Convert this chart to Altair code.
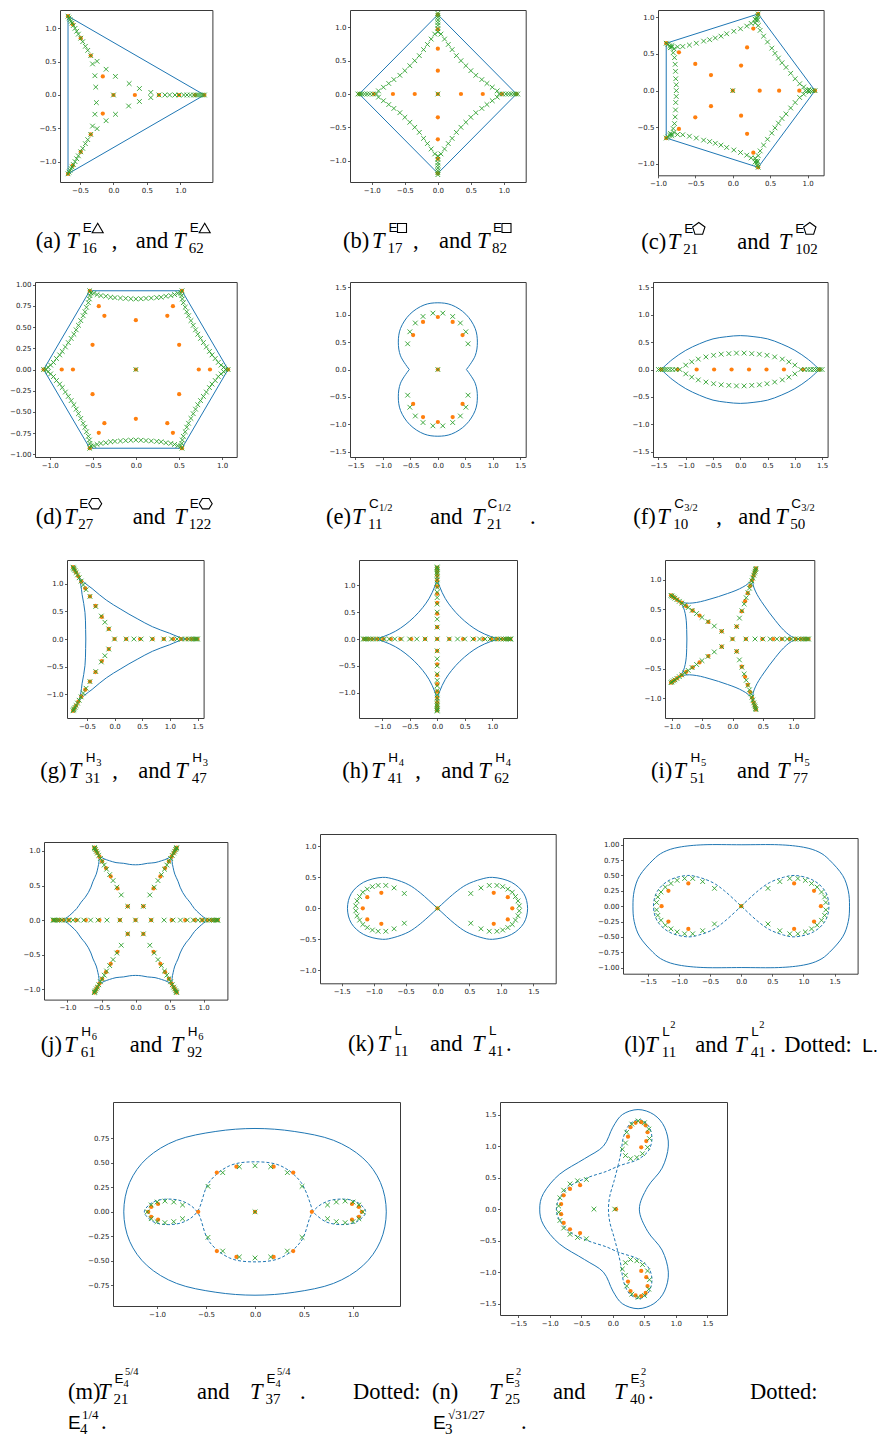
import numpy as np
import pandas as pd
import altair as alt

BLUE, ORANGE, GREEN = "#1f77b4", "#ff7f0e", "#2ca02c"
XMARK = "M-1,-1L1,1M-1,1L1,-1"

# ======================= data =======================
# (a) triangle: vertices (polar) / points along the three arms / off-arm points per sector
A_POLY_R = [1.36, 1.36, 1.36, 1.36]
A_POLY_DEG = [0, 120, 240, 360]
A_ARMS = [0, 120, 240]
A_ORANGE_R = [0.32, 0.68, 0.98, 1.22, 1.36]
A_GREEN_R = [0.68, 0.77, 0.84, 0.92, 0.98, 1.05, 1.10, 1.15, 1.20, 1.24, 1.27, 1.30, 1.33, 1.36]
A_GREEN_OFF = [-4, 4, 14, 36, 84, 106]
A_GREEN_OFF_R = [0.56, 0.56, 0.40, 0.29, 0.28, 0.40]

# (b) square
B_POLY_R = [1.19, 1.19, 1.19, 1.19, 1.19]
B_POLY_DEG = [0, 90, 180, 270, 360]
B_ARMS = [0, 90, 180, 270]
B_ORANGE_R = [0.35, 0.68, 0.97, 1.19]
B_GREEN_R = [0.93, 0.98, 1.03, 1.07, 1.11, 1.15, 1.18, 1.21]
B_GREEN_OFF = [3, 7, 12, 18, 26, 35, 45, 55, 64, 72, 78, 83, 87]
B_GREEN_OFF_R = [0.90, 0.83, 0.76, 0.70, 0.64, 0.61, 0.60, 0.61, 0.64, 0.70, 0.76, 0.83, 0.90]

# (c) pentagon
C_POLY_R = [1.10, 1.10, 1.10, 1.10, 1.10, 1.10]
C_POLY_DEG = [0, 72, 144, 216, 288, 360]
C_ARMS = [0, 72, 144, 216, 288]
C_ORANGE_R = [0.36, 0.62, 0.89, 1.10]
C_GREEN_R = [0.97, 1.01, 1.04, 1.07, 1.10]
C_GREEN_OFF = [1, 3, 6, 11, 17, 24, 30, 36, 42, 48, 55, 61, 66, 69, 71]
C_GREEN_OFF_R = [1.02, 0.95, 0.90, 0.85, 0.81, 0.78, 0.76, 0.755, 0.76, 0.78, 0.81, 0.85, 0.90, 0.95, 1.02]

# (d) hexagon
D_POLY_R = [1.07, 1.07, 1.07, 1.07, 1.07, 1.07, 1.07]
D_POLY_DEG = [0, 60, 120, 180, 240, 300, 360]
D_ARMS = [0, 60, 120, 180, 240, 300]
D_ORANGE_R = [0.73, 0.86, 1.07]
D_ORANGE_MID_OFF = [30]
D_ORANGE_MID_R = [0.58]
D_GREEN_R = [1.04, 1.07]
D_GREEN_OFF = [1.5, 3, 5, 8, 11, 14, 18, 22, 26, 30, 34, 38, 42, 46, 49, 52, 55, 57, 58.5]
D_GREEN_OFF_R = [1.02, 0.99, 0.96, 0.93, 0.90, 0.88, 0.86, 0.845, 0.835, 0.83, 0.835, 0.845,
                 0.86, 0.88, 0.90, 0.93, 0.96, 0.99, 1.02]

# (e) C_{1/2}
E_TOP_X = [0.52, 0.68, 0.72, 0.68, 0.51, 0.25, 0.00, -0.25, -0.51, -0.68, -0.72, -0.68, -0.52]
E_TOP_Y = [0.00, 0.25, 0.50, 0.75, 1.01, 1.18, 1.22, 1.18, 1.01, 0.75, 0.50, 0.25, 0.00]
E_BOT_X = [0.52, 0.68, 0.72, 0.68, 0.51, 0.25, 0.00, -0.25, -0.51, -0.68, -0.72, -0.68, -0.52]
E_BOT_Y = [0.00, -0.25, -0.50, -0.75, -1.01, -1.18, -1.22, -1.18, -1.01, -0.75, -0.50, -0.25, 0.00]
E_ORANGE_X = [0.00, 0.00, 0.27, -0.27, 0.45, -0.45, 0.00, 0.27, -0.27, 0.45, -0.45]
E_ORANGE_Y = [0.00, 0.96, 0.87, 0.87, 0.63, 0.63, -0.96, -0.87, -0.87, -0.63, -0.63]
E_GREEN_X = [0.00, 0.09, -0.09, 0.27, -0.27, 0.41, -0.41, 0.51, -0.51, 0.55, -0.55,
             0.09, -0.09, 0.27, -0.27, 0.41, -0.41, 0.51, -0.51, 0.55, -0.55]
E_GREEN_Y = [0.00, 1.03, 1.03, 0.97, 0.97, 0.85, 0.85, 0.69, 0.69, 0.47, 0.47,
             -1.03, -1.03, -0.97, -0.97, -0.85, -0.85, -0.69, -0.69, -0.47, -0.47]

# (f) C_{3/2}
F_ARC_X = [-1.45, -1.25, -1.00, -0.75, -0.50, -0.25, 0.00, 0.25, 0.50, 0.75, 1.00, 1.25, 1.45]
F_TOP_Y = [0.00, 0.18, 0.35, 0.47, 0.56, 0.60, 0.62, 0.60, 0.56, 0.47, 0.35, 0.18, 0.00]
F_BOT_Y = [0.00, -0.18, -0.35, -0.47, -0.56, -0.60, -0.62, -0.60, -0.56, -0.47, -0.35, -0.18, 0.00]
F_ORANGE_X = [-1.45, -1.15, -0.80, -0.48, -0.16, 0.16, 0.48, 0.80, 1.15, 1.45]
F_ORANGE_Y = [0, 0, 0, 0, 0, 0, 0, 0, 0, 0]
F_GREEN_END_X = [-1.50, -1.46, -1.42, -1.38, -1.34, -1.29, -1.24, -1.18, -1.11,
                 1.11, 1.18, 1.24, 1.29, 1.34, 1.38, 1.42, 1.46, 1.50]
F_GREEN_ARC_X = [-1.00, -0.89, -0.77, -0.63, -0.49, -0.35, -0.21, -0.07, 0.07, 0.21, 0.35, 0.49,
                 0.63, 0.77, 0.89, 1.00]
F_GREEN_ARC_UP = [0.08, 0.14, 0.19, 0.23, 0.26, 0.28, 0.29, 0.30, 0.30, 0.29, 0.28, 0.26,
                  0.23, 0.19, 0.14, 0.08]
F_GREEN_ARC_DN = [-0.08, -0.14, -0.19, -0.23, -0.26, -0.28, -0.29, -0.30, -0.30, -0.29, -0.28,
                  -0.26, -0.23, -0.19, -0.14, -0.08]

# (g) H3 : arcs between cusps given as (angular offset from cusp, radius)
G_ARMS = [0, 120, 240]
G_ARC_OFF = [0, 2, 6, 11, 18, 28, 42, 60, 78, 92, 102, 109, 114, 118, 120]
G_ARC_R = [1.30, 1.15, 1.00, 0.85, 0.72, 0.62, 0.55, 0.52, 0.55, 0.62, 0.72, 0.85, 1.00, 1.15, 1.30]
G_ORANGE_R = [0.21, 0.46, 0.69, 0.89, 1.06, 1.20, 1.31, 1.39, 1.45, 1.50]
G_GREEN_R = [0.21, 0.35, 0.48, 0.68, 0.89, 1.03, 1.13, 1.21, 1.28, 1.34, 1.39, 1.43, 1.46, 1.48, 1.50]

# (h) H4
H_ARMS = [0, 90, 180, 270]
H_ARC_OFF = [0, 0.3, 2.8, 10.9, 24.3, 45, 65.7, 79.1, 87.2, 89.7, 90]
H_ARC_R = [1.17, 1.12, 0.97, 0.77, 0.64, 0.585, 0.64, 0.77, 0.97, 1.12, 1.17]
H_ORANGE_R = [0.22, 0.47, 0.67, 0.84, 0.98, 1.09, 1.18, 1.25, 1.30, 1.33]
H_GREEN_R = [0.22, 0.37, 0.50, 0.65, 0.77, 0.87, 0.96, 1.04, 1.10, 1.16, 1.21, 1.25, 1.29, 1.32, 1.34]

# (i) H5
I_ARMS = [0, 72, 144, 216, 288]
I_ARC_OFF = [0, 0.5, 2.5, 7, 14, 24, 36, 48, 58, 65, 69.5, 71.5, 72]
I_ARC_R = [1.10, 1.05, 0.97, 0.89, 0.82, 0.77, 0.75, 0.77, 0.82, 0.89, 0.97, 1.05, 1.10]
I_ORANGE_R = [0.22, 0.49, 0.67, 0.81, 0.94, 1.04, 1.12, 1.18, 1.22, 1.25]
I_GREEN_R = [0.22, 0.37, 0.50, 0.62, 0.73, 0.82, 0.90, 0.97, 1.03, 1.08, 1.13, 1.17, 1.20, 1.23, 1.25]

# (j) H6
J_ARMS = [0, 60, 120, 180, 240, 300]
J_ARC_OFF = [0, 0.5, 2.5, 6, 11, 18, 24, 30, 36, 42, 49, 54, 57.5, 59.5, 60]
J_ARC_R = [1.10, 1.06, 1.00, 0.94, 0.88, 0.84, 0.81, 0.80, 0.81, 0.84, 0.88, 0.94, 1.00, 1.06, 1.10]
J_ORANGE_R = [0.23, 0.53, 0.73, 0.87, 0.98, 1.06, 1.12, 1.16, 1.19, 1.21]
J_GREEN_R = [0.23, 0.42, 0.55, 0.66, 0.76, 0.85, 0.92, 0.98, 1.03, 1.08, 1.12, 1.15, 1.18, 1.20, 1.21]

# (k) lemniscate L
K_LEM_X = [0, 0.27, 0.45, 0.68, 0.86, 1.16, 1.35, 1.41, 1.35, 1.16, 0.86, 0.68, 0.45, 0.27, 0,
           -0.27, -0.45, -0.68, -0.86, -1.16, -1.35, -1.41, -1.35, -1.16, -0.86, -0.68, -0.45, -0.27, 0]
K_LEM_Y = [0, 0.25, 0.38, 0.47, 0.50, 0.42, 0.24, 0, -0.24, -0.42, -0.50, -0.47, -0.38, -0.25, 0,
           0.25, 0.38, 0.47, 0.50, 0.42, 0.24, 0, -0.24, -0.42, -0.50, -0.47, -0.38, -0.25, 0]
K_ORANGE_X = [0, 0.88, 1.10, 1.17, 1.10, 0.88, -0.88, -1.10, -1.17, -1.10, -0.88]
K_ORANGE_Y = [0, 0.25, 0.18, 0, -0.18, -0.25, 0.25, 0.18, 0, -0.18, -0.25]
K_GREEN_QX = [0.52, 0.68, 0.81, 0.93, 1.02, 1.10, 1.17, 1.22, 1.26, 1.28]
K_GREEN_QY = [0.24, 0.33, 0.37, 0.37, 0.35, 0.31, 0.26, 0.19, 0.12, 0.04]

# (l) L^2 with dotted L
L_OUT_X = [1.74, 1.72, 1.63, 1.42, 1.25, 1.00, 0.60, 0.00, -0.60, -1.00, -1.25, -1.42, -1.63, -1.72,
           -1.74, -1.72, -1.63, -1.42, -1.25, -1.00, -0.60, 0.00, 0.60, 1.00, 1.25, 1.42, 1.63, 1.72]
L_OUT_Y = [0.00, 0.25, 0.50, 0.75, 0.88, 0.96, 1.00, 1.00, 1.00, 0.96, 0.88, 0.75, 0.50, 0.25,
           0.00, -0.25, -0.50, -0.75, -0.88, -0.96, -1.00, -1.00, -1.00, -0.96, -0.88, -0.75, -0.50, -0.25]
L_LEM_X = [0, 0.27, 0.45, 0.68, 0.86, 1.16, 1.35, 1.41, 1.35, 1.16, 0.86, 0.68, 0.45, 0.27, 0,
           -0.27, -0.45, -0.68, -0.86, -1.16, -1.35, -1.41, -1.35, -1.16, -0.86, -0.68, -0.45, -0.27, 0]
L_LEM_Y = [0, 0.25, 0.38, 0.47, 0.50, 0.42, 0.24, 0, -0.24, -0.42, -0.50, -0.47, -0.38, -0.25, 0,
           0.25, 0.38, 0.47, 0.50, 0.42, 0.24, 0, -0.24, -0.42, -0.50, -0.47, -0.38, -0.25, 0]
L_ORANGE_X = [0, 0.85, 1.17, 1.28, 1.17, 0.85, -0.85, -1.17, -1.28, -1.17, -0.85]
L_ORANGE_Y = [0, 0.37, 0.25, 0, -0.25, -0.37, 0.37, 0.25, 0, -0.25, -0.37]
L_GREEN_QX = [0.43, 0.62, 0.78, 0.91, 1.03, 1.13, 1.22, 1.29, 1.34, 1.36]
L_GREEN_QY = [0.29, 0.40, 0.45, 0.45, 0.42, 0.37, 0.31, 0.23, 0.15, 0.06]

# (m) E4^{5/4} with dotted E4^{1/4}
M_OUT_X = [1.34, 1.28, 1.10, 0.80, 0.40, 0.00, -0.40, -0.80, -1.10, -1.28,
           -1.34, -1.28, -1.10, -0.80, -0.40, 0.00, 0.40, 0.80, 1.10, 1.28]
M_OUT_Y = [0.00, 0.30, 0.55, 0.73, 0.82, 0.85, 0.82, 0.73, 0.55, 0.30,
           0.00, -0.30, -0.55, -0.73, -0.82, -0.85, -0.82, -0.73, -0.55, -0.30]
M_DASH_X = [0.59, 0.47, 0.26, 0.00, -0.26, -0.47, -0.59, -0.72, -0.88, -1.04, -1.13, -1.04, -0.88,
            -0.72, -0.59, -0.47, -0.26, 0.00, 0.26, 0.47, 0.59, 0.72, 0.88, 1.04, 1.13, 1.04, 0.88,
            0.72, 0.59]
M_DASH_Y = [0.00, 0.30, 0.47, 0.51, 0.47, 0.30, 0.00, -0.10, -0.13, -0.10, 0.00, 0.10, 0.13,
            0.10, 0.00, -0.30, -0.47, -0.51, -0.47, -0.30, 0.00, 0.10, 0.13, 0.10, 0.00, -0.10, -0.13,
            -0.10, 0.00]
M_ORANGE_X = [0.00, -0.39, -0.19, 0.19, 0.39, -0.39, -0.19, 0.19, 0.39, -0.58, 0.58,
              0.99, 1.06, 1.09, 1.06, 0.99, -0.99, -1.06, -1.09, -1.06, -0.99]
M_ORANGE_Y = [0.00, 0.40, 0.46, 0.46, 0.40, -0.40, -0.46, -0.46, -0.40, 0.00, 0.00,
              0.08, 0.05, 0.00, -0.05, -0.08, 0.08, 0.05, 0.00, -0.05, -0.08]
M_GREEN_X = [0.00, -0.48, -0.33, -0.16, 0.00, 0.16, 0.33, 0.48, -0.48, -0.33, -0.16, 0.00, 0.16, 0.33, 0.48,
             0.74, 0.83, 0.92, 1.00, 1.06, 1.10, 1.06, 1.00, 0.92, 0.83, 0.74,
             -0.74, -0.83, -0.92, -1.00, -1.06, -1.10, -1.06, -1.00, -0.92, -0.83, -0.74]
M_GREEN_Y = [0.00, 0.26, 0.40, 0.46, 0.47, 0.46, 0.40, 0.26, -0.26, -0.40, -0.46, -0.47, -0.46, -0.40, -0.26,
             0.07, 0.10, 0.11, 0.10, 0.07, 0.00, -0.07, -0.10, -0.11, -0.10, -0.07,
             0.07, 0.10, 0.11, 0.10, 0.07, 0.00, -0.07, -0.10, -0.11, -0.10, -0.07]

# (n) E3^2 with dotted E3^{sqrt(31/27)}
N_OUT_X = [0.40, 0.65, 0.82, 0.88, 0.78, 0.55, 0.42, 0.55, 0.78, 0.88, 0.82, 0.65, 0.40, 0.15, 0.00,
           -0.15, -0.45, -0.85, -1.10, -1.16, -1.10, -0.85, -0.45, -0.15, 0.00, 0.15]
N_OUT_Y = [1.58, 1.50, 1.30, 1.00, 0.65, 0.35, 0.00, -0.35, -0.65, -1.00, -1.30, -1.50, -1.58, -1.50,
           -1.30, -1.00, -0.80, -0.55, -0.25, 0.00, 0.25, 0.55, 0.80, 1.00, 1.30, 1.50]
N_DASH_X = [0.08, 0.13, 0.17, 0.27, 0.42, 0.56, 0.62, 0.56, 0.38, 0.20, 0.08, -0.10, -0.40, -0.70, -0.88,
            -0.88, -0.70, -0.40, -0.10, 0.08, 0.20, 0.38, 0.56, 0.62, 0.56, 0.42, 0.27, 0.17, 0.13, 0.08,
            0.02, -0.05, -0.07, -0.05, 0.02, 0.08]
N_DASH_Y = [0.68, 0.90, 1.15, 1.35, 1.42, 1.33, 1.12, 0.92, 0.78, 0.72, 0.68, 0.60, 0.50, 0.35, 0.10,
            -0.10, -0.35, -0.50, -0.60, -0.68, -0.72, -0.78, -0.92, -1.12, -1.33, -1.42, -1.35, -1.15, -0.90,
            -0.68, -0.45, -0.20, 0.00, 0.20, 0.45, 0.68]
N_ORANGE_X = [0.05, 0.28, 0.36, 0.45, 0.52, 0.55, 0.53, 0.45, 0.24,
              -0.82, -0.78, -0.68, -0.52, -0.82, -0.78, -0.68, -0.52,
              0.28, 0.36, 0.45, 0.52, 0.55, 0.53, 0.45, 0.24]
N_ORANGE_Y = [0.00, 1.30, 1.37, 1.38, 1.33, 1.22, 1.08, 0.98, 1.15,
              0.08, 0.22, 0.32, 0.38, -0.08, -0.22, -0.32, -0.38,
              -1.30, -1.37, -1.38, -1.33, -1.22, -1.08, -0.98, -1.15]
N_GREEN_X = [0.03, 0.20, 0.22, 0.30, 0.40, 0.50, 0.57, 0.58, 0.55, 0.47, 0.38, 0.28, 0.20, 0.15,
             -0.86, -0.84, -0.78, -0.68, -0.56, -0.42, -0.86, -0.84, -0.78, -0.68, -0.56, -0.42, -0.30,
             0.20, 0.22, 0.30, 0.40, 0.50, 0.57, 0.58, 0.55, 0.47, 0.38, 0.28, 0.20, 0.15]
N_GREEN_Y = [0.00, 1.05, 1.22, 1.35, 1.40, 1.37, 1.27, 1.12, 0.98, 0.88, 0.82, 0.80, 0.85, 0.95,
             0.05, 0.18, 0.30, 0.40, 0.45, 0.47, -0.05, -0.18, -0.30, -0.40, -0.45, -0.47, 0.00,
             -1.05, -1.22, -1.35, -1.40, -1.37, -1.27, -1.12, -0.98, -0.88, -0.82, -0.80, -0.85, -0.95]

# ======================= captions (style, text, x in page pixels) =======================
CAP_A = [("rm", "(a)", 35), ("it", "T", 65.5), ("sup", "E", 82), ("tri", "", 97), ("sub", "16", 81),
         ("rm", ",", 111), ("rm", "and", 135), ("it", "T", 172.5), ("sup", "E", 189), ("tri", "", 204),
         ("sub", "62", 188)]
CAP_B = [("rm", "(b)", 343), ("it", "T", 372), ("sup", "E", 388.5), ("sq", "", 402), ("sub", "17", 387.5),
         ("rm", ",", 413), ("rm", "and", 439), ("it", "T", 477), ("sup", "E", 493), ("sq", "", 506.5),
         ("sub", "82", 492)]
CAP_C = [("rm", "(c)", 641), ("it", "T", 667.5), ("sup", "E", 684), ("pent", "", 698.5), ("sub", "21", 683),
         ("rm", "and", 737), ("it", "T", 778.5), ("sup", "E", 795), ("pent", "", 809.5), ("sub", "102", 795)]
CAP_D = [("rm", "(d)", 35), ("it", "T", 63.5), ("sup", "E", 78.5), ("hex", "", 94.5), ("sub", "27", 77.5),
         ("rm", "and", 132), ("it", "T", 173.5), ("sup", "E", 189), ("hex", "", 205), ("sub", "122", 188)]
CAP_E = [("rm", "(e)", 326), ("it", "T", 352), ("sup", "C", 369), ("supsub", "1/2", 379), ("sub", "11", 368),
         ("rm", "and", 430), ("it", "T", 472), ("sup", "C", 487.5), ("supsub", "1/2", 497.5),
         ("sub", "21", 487), ("rm", ".", 530)]
CAP_F = [("rm", "(f)", 633), ("it", "T", 657), ("sup", "C", 674), ("supsub", "3/2", 684), ("sub", "10", 673),
         ("rm", ",", 716), ("rm", "and", 738), ("it", "T", 775), ("sup", "C", 791), ("supsub", "3/2", 801),
         ("sub", "50", 790)]
CAP_G = [("rm", "(g)", 40), ("it", "T", 68.5), ("sup", "H", 85.5), ("supsub", "3", 96), ("sub", "31", 85),
         ("rm", ",", 112), ("rm", "and", 138), ("it", "T", 175), ("sup", "H", 192), ("supsub", "3", 202.5),
         ("sub", "47", 191.5)]
CAP_H = [("rm", "(h)", 342), ("it", "T", 371), ("sup", "H", 388), ("supsub", "4", 398.5), ("sub", "41", 387.5),
         ("rm", ",", 415), ("rm", "and", 441), ("it", "T", 478), ("sup", "H", 495), ("supsub", "4", 505.5),
         ("sub", "62", 494)]
CAP_I = [("rm", "(i)", 651), ("it", "T", 673.5), ("sup", "H", 690.5), ("supsub", "5", 701), ("sub", "51", 690),
         ("rm", "and", 737), ("it", "T", 777), ("sup", "H", 794), ("supsub", "5", 804.5), ("sub", "77", 793)]
CAP_J = [("rm", "(j)", 40), ("it", "T", 63.5), ("sup", "H", 80.5), ("supsub", "6", 91), ("sub", "61", 80),
         ("rm", "and", 129), ("it", "T", 170), ("sup", "H", 187), ("supsub", "6", 197.5), ("sub", "92", 186.5)]
CAP_K = [("rm", "(k)", 348), ("it", "T", 377.5), ("sup", "L", 394.5), ("sub", "11", 394), ("rm", "and", 430),
         ("it", "T", 472), ("sup", "L", 489), ("sub", "41", 488.5), ("rm", ".", 506)]
CAP_L = [("rm", "(l)", 624), ("it", "T", 645), ("sup", "L", 662), ("supsup", "2", 670), ("sub", "11", 661.5),
         ("rm", "and", 695), ("it", "T", 734), ("sup", "L", 751), ("supsup", "2", 759), ("sub", "41", 750.5),
         ("rm", ".", 770), ("rm", "Dotted:", 784), ("sans", "L.", 862)]
CAP_M1 = [("rm", "(m)", 68), ("it", "T", 98), ("sup", "E", 114.5), ("supsub", "4", 123.5),
          ("supsup", "5/4", 125), ("sub", "21", 113.5), ("rm", "and", 197), ("it", "T", 250),
          ("sup", "E", 266.5), ("supsub", "4", 275.5), ("supsup", "5/4", 277), ("sub", "37", 265.5),
          ("rm", ".", 300), ("rm", "Dotted:", 353)]
CAP_M2 = [("sans", "E", 68), ("sub", "4", 80), ("sup2", "1/4", 82), ("rm", ".", 101)]
CAP_N1 = [("rm", "(n)", 432), ("it", "T", 489), ("sup", "E", 505.5), ("supsub", "3", 514.5),
          ("supsup", "2", 516), ("sub", "25", 505), ("rm", "and", 553), ("it", "T", 614),
          ("sup", "E", 630.5), ("supsub", "3", 639.5), ("supsup", "2", 641), ("sub", "40", 630),
          ("rm", ".", 648), ("rm", "Dotted:", 750)]
CAP_N2 = [("sans", "E", 433), ("sub", "3", 445), ("sup2", "\u221a31/27", 448), ("rm", ".", 521)]

# ======================= helpers =======================
TEXT_STYLES = {
    "rm": ("Liberation Serif", 22.5, "normal", 0),
    "it": ("Liberation Serif", 22.5, "italic", 0),
    "sub": ("Liberation Serif", 15, "normal", 5),
    "sup": ("Liberation Sans", 13.5, "normal", -16),
    "supsub": ("Liberation Serif", 10.5, "normal", -12.5),
    "supsup": ("Liberation Serif", 10.5, "normal", -24),
    "sans": ("Liberation Sans", 19, "normal", 0),
    "sup2": ("Liberation Serif", 13, "normal", -10),
}
SHAPES = {
    "tri": ("M0,-0.85L1,0.85L-1,0.85Z", 121),
    "sq": ("M-1,-1L1,-1L1,1L-1,1Z", 81),
    "pent": ("M0,-1L0.951,-0.309L0.588,0.809L-0.588,0.809L-0.951,-0.309Z", 169),
    "hex": ("M1,0L0.5,0.8L-0.5,0.8L-1,0L-0.5,-0.8L0.5,-0.8Z", 169),
}


def polar(rs, ds):
    r = np.asarray(rs, dtype=float)
    d = np.deg2rad(np.asarray(ds, dtype=float))
    return pd.DataFrame({"x": r * np.cos(d), "y": r * np.sin(d)})


def cart(xs, ys):
    return pd.DataFrame({"x": np.asarray(xs, dtype=float), "y": np.asarray(ys, dtype=float)})


def on_arms(arms, radii, centre=True):
    rs, ds = ([0.0], [0.0]) if centre else ([], [])
    for a in arms:
        rs += list(radii)
        ds += [a] * len(radii)
    return rs, ds


def in_sectors(arms, offsets, radii):
    rs, ds = [], []
    for a in arms:
        rs += list(radii)
        ds += [a + o for o in offsets]
    return rs, ds


def join_polar(*parts):
    rs, ds = [], []
    for r, d in parts:
        rs += list(r)
        ds += list(d)
    return polar(rs, ds)


def arcs(arms, offsets, radii):
    return [polar(radii, [a + o for o in offsets]) for a in arms]


def mirror4(qx, qy):
    xs, ys = [], []
    for sx, sy in ((1, 1), (1, -1), (-1, 1), (-1, -1)):
        xs += [sx * v for v in qx]
        ys += [sy * v for v in qy]
    return xs, ys


def line_df(segs):
    frames = []
    for k, d in enumerate(segs):
        d = d.copy()
        d["seg"] = k
        d["i"] = np.arange(len(d))
        frames.append(d)
    return pd.concat(frames, ignore_index=True)


def axis(values, fmt):
    return alt.Axis(values=values, format=fmt, title=None, grid=False, domain=False, ticks=True,
                    tickSize=2.5, tickColor="#333333", tickWidth=0.8, labelFont="DejaVu Sans",
                    labelFontSize=7, labelColor="#222222", labelPadding=1.5, labelFlush=False,
                    labelOverlap=False)


def make_panel(P):
    X = alt.X("x:Q", scale=alt.Scale(domain=P["xdom"], nice=False, zero=False),
              axis=axis(P["xticks"], P.get("xfmt", ".1f")))
    Y = alt.Y("y:Q", scale=alt.Scale(domain=P["ydom"], nice=False, zero=False),
              axis=axis(P["yticks"], P.get("yfmt", ".1f")))
    layers = []
    for spec in P["lines"]:
        kw = dict(color=BLUE, strokeWidth=1.0, interpolate=spec["interp"])
        if spec.get("dash"):
            kw["strokeDash"] = [3, 2]
        layers.append(alt.Chart(line_df(spec["segs"])).mark_line(**kw).encode(
            x=X, y=Y, detail="seg:N", order="i:Q"))
    layers.append(alt.Chart(P["orange"]).mark_point(shape="circle", filled=True, size=18, color=ORANGE,
                                                     opacity=1).encode(x=X, y=Y))
    layers.append(alt.Chart(P["green"]).mark_point(shape=XMARK, filled=False, size=22, color=GREEN,
                                                    strokeWidth=0.9, opacity=1).encode(x=X, y=Y))
    for base, pieces in P["cap"]:
        for style, text, xi in pieces:
            px = xi - P["left"]
            if style in SHAPES:
                path, size = SHAPES[style]
                layers.append(alt.Chart(alt.Data(values=[{}])).mark_point(
                    shape=path, filled=False, size=size, color="black", strokeWidth=1.1, opacity=1
                ).encode(x=alt.value(px), y=alt.value(base - 20 - P["top"])))
            else:
                font, fs, fst, dy = TEXT_STYLES[style]
                layers.append(alt.Chart(alt.Data(values=[{}])).mark_text(
                    text=text, font=font, fontSize=fs, fontStyle=fst, align="left",
                    baseline="alphabetic", color="black"
                ).encode(x=alt.value(px), y=alt.value(base + dy - P["top"])))
    return alt.layer(*layers).properties(width=P["w"], height=P["h"])


def spacer(w, h):
    return alt.Chart(alt.Data(values=[{}])).mark_point(opacity=0, size=1).properties(
        width=w, height=h, view=alt.ViewBackground(strokeOpacity=0))


TICK3 = [-1.0, -0.5, 0.0, 0.5, 1.0]
TICK15 = [-1.5, -1.0, -0.5, 0.0, 0.5, 1.0, 1.5]
TICKQ = [-1.0, -0.75, -0.5, -0.25, 0.0, 0.25, 0.5, 0.75, 1.0]

gx_k, gy_k = mirror4(K_GREEN_QX, K_GREEN_QY)
gx_l, gy_l = mirror4(L_GREEN_QX, L_GREEN_QY)

# "adj": small upward correction of the stacking offset so each frame lands on its target row
P_A = dict(left=59.3, top=8, adj=0, w=152.4, h=172, xdom=[-0.80, 1.48], ydom=[-1.30, 1.27],
           xticks=[-0.5, 0.0, 0.5, 1.0], yticks=TICK3,
           lines=[dict(segs=[polar(A_POLY_R, A_POLY_DEG)], interp="linear")],
           orange=join_polar(on_arms(A_ARMS, A_ORANGE_R)),
           green=join_polar(on_arms(A_ARMS, A_GREEN_R), in_sectors(A_ARMS, A_GREEN_OFF, A_GREEN_OFF_R)),
           cap=[(246, CAP_A)])
P_B = dict(left=350, top=8, adj=0, w=175.7, h=172, xdom=[-1.33, 1.33], ydom=[-1.32, 1.26],
           xticks=TICK3, yticks=TICK3,
           lines=[dict(segs=[polar(B_POLY_R, B_POLY_DEG)], interp="linear")],
           orange=join_polar(on_arms(B_ARMS, B_ORANGE_R)),
           green=join_polar(on_arms(B_ARMS, B_GREEN_R), in_sectors(B_ARMS, B_GREEN_OFF, B_GREEN_OFF_R)),
           cap=[(246, CAP_B)])
P_C = dict(left=657.7, top=8, adj=0, w=165.6, h=165.3, xdom=[-1.0, 1.215], ydom=[-1.155, 1.10],
           xticks=TICK3, yticks=TICK3,
           lines=[dict(segs=[polar(C_POLY_R, C_POLY_DEG)], interp="linear")],
           orange=join_polar(on_arms(C_ARMS, C_ORANGE_R)),
           green=join_polar(on_arms(C_ARMS, C_GREEN_R), in_sectors(C_ARMS, C_GREEN_OFF, C_GREEN_OFF_R)),
           cap=[(247, CAP_C)])
P_D = dict(left=34.3, top=283.3, adj=3.5, w=201.7, h=175, xdom=[-1.17, 1.17], ydom=[-1.03, 1.03],
           xticks=TICK3, yticks=TICKQ, yfmt=".2f",
           lines=[dict(segs=[polar(D_POLY_R, D_POLY_DEG)], interp="linear")],
           orange=join_polar(on_arms(D_ARMS, D_ORANGE_R), in_sectors(D_ARMS, D_ORANGE_MID_OFF, D_ORANGE_MID_R)),
           green=join_polar(on_arms(D_ARMS, D_GREEN_R), in_sectors(D_ARMS, D_GREEN_OFF, D_GREEN_OFF_R)),
           cap=[(525, CAP_D)])
P_E = dict(left=350, top=283.3, adj=3.5, w=175.7, h=175, xdom=[-1.6, 1.6], ydom=[-1.6, 1.6],
           xticks=TICK15, yticks=TICK15,
           lines=[dict(segs=[cart(E_TOP_X, E_TOP_Y), cart(E_BOT_X, E_BOT_Y)], interp="catmull-rom")],
           orange=cart(E_ORANGE_X, E_ORANGE_Y), green=cart(E_GREEN_X, E_GREEN_Y),
           cap=[(525, CAP_E)])
P_F = dict(left=652.7, top=283.3, adj=3.5, w=174.6, h=175, xdom=[-1.6, 1.6], ydom=[-1.6, 1.6],
           xticks=TICK15, yticks=TICK15,
           lines=[dict(segs=[cart(F_ARC_X, F_TOP_Y), cart(F_ARC_X, F_BOT_Y)], interp="catmull-rom")],
           orange=cart(F_ORANGE_X, F_ORANGE_Y),
           green=cart(F_GREEN_END_X + F_GREEN_ARC_X + F_GREEN_ARC_X,
                      [0.0] * len(F_GREEN_END_X) + F_GREEN_ARC_UP + F_GREEN_ARC_DN),
           cap=[(525, CAP_F)])
P_G = dict(left=66.7, top=561, adj=3.5, w=136.6, h=158, xdom=[-0.86, 1.61], ydom=[-1.43, 1.43],
           xticks=[-0.5, 0.0, 0.5, 1.0, 1.5], yticks=TICK3,
           lines=[dict(segs=arcs(G_ARMS, G_ARC_OFF, G_ARC_R), interp="catmull-rom")],
           orange=join_polar(on_arms(G_ARMS, G_ORANGE_R)), green=join_polar(on_arms(G_ARMS, G_GREEN_R)),
           cap=[(779, CAP_G)])
P_H = dict(left=358.7, top=561, adj=3.5, w=158, h=158, xdom=[-1.42, 1.45], ydom=[-1.47, 1.47],
           xticks=TICK3, yticks=TICK3,
           lines=[dict(segs=arcs(H_ARMS, H_ARC_OFF, H_ARC_R), interp="catmull-rom")],
           orange=join_polar(on_arms(H_ARMS, H_ORANGE_R)), green=join_polar(on_arms(H_ARMS, H_GREEN_R)),
           cap=[(779, CAP_H)])
P_I = dict(left=665, top=561, adj=3.5, w=149.3, h=158, xdom=[-1.11, 1.345], ydom=[-1.33, 1.33],
           xticks=TICK3, yticks=TICK3,
           lines=[dict(segs=arcs(I_ARMS, I_ARC_OFF, I_ARC_R), interp="catmull-rom")],
           orange=join_polar(on_arms(I_ARMS, I_ORANGE_R)), green=join_polar(on_arms(I_ARMS, I_GREEN_R)),
           cap=[(779, CAP_I)])
P_J = dict(left=43.3, top=841.7, adj=3.7, w=183.4, h=157.6, xdom=[-1.345, 1.35], ydom=[-1.15, 1.13],
           xticks=TICK3, yticks=TICK3,
           lines=[dict(segs=arcs(J_ARMS, J_ARC_OFF, J_ARC_R), interp="catmull-rom")],
           orange=join_polar(on_arms(J_ARMS, J_ORANGE_R)), green=join_polar(on_arms(J_ARMS, J_GREEN_R)),
           cap=[(1052, CAP_J)])
P_K = dict(left=320, top=835, adj=3.7, w=235.7, h=149.3, xdom=[-1.84, 1.85], ydom=[-1.21, 1.20],
           xticks=TICK15, yticks=TICK3,
           lines=[dict(segs=[cart(K_LEM_X, K_LEM_Y)], interp="catmull-rom")],
           orange=cart(K_ORANGE_X, K_ORANGE_Y), green=cart([0.0] + gx_k, [0.0] + gy_k),
           cap=[(1052, CAP_K)])
P_L = dict(left=622.7, top=838.3, adj=3.7, w=234.6, h=135.7, xdom=[-1.90, 1.87], ydom=[-1.10, 1.11],
           xticks=TICK15, yticks=TICKQ, yfmt=".2f",
           lines=[dict(segs=[cart(L_OUT_X, L_OUT_Y)], interp="cardinal-closed"),
                  dict(segs=[cart(L_LEM_X, L_LEM_Y)], interp="catmull-rom", dash=True)],
           orange=cart(L_ORANGE_X, L_ORANGE_Y), green=cart([0.0] + gx_l, [0.0] + gy_l),
           cap=[(1052, CAP_L)])
P_M = dict(left=113, top=1103, adj=5, w=287, h=204, xdom=[-1.45, 1.48], ydom=[-0.96, 1.12],
           xticks=TICK3, yticks=[-0.75, -0.5, -0.25, 0.0, 0.25, 0.5, 0.75], yfmt=".2f",
           lines=[dict(segs=[cart(M_OUT_X, M_OUT_Y)], interp="cardinal-closed"),
                  dict(segs=[cart(M_DASH_X, M_DASH_Y)], interp="catmull-rom", dash=True)],
           orange=cart(M_ORANGE_X, M_ORANGE_Y), green=cart(M_GREEN_X, M_GREEN_Y),
           cap=[(1400, CAP_M1), (1430, CAP_M2)])
P_N = dict(left=500, top=1103, adj=5, w=227, h=213, xdom=[-1.79, 1.81], ydom=[-1.68, 1.70],
           xticks=TICK15, yticks=TICK15,
           lines=[dict(segs=[cart(N_OUT_X, N_OUT_Y)], interp="cardinal-closed"),
                  dict(segs=[cart(N_DASH_X, N_DASH_Y)], interp="catmull-rom", dash=True)],
           orange=cart(N_ORANGE_X, N_ORANGE_Y), green=cart(N_GREEN_X, N_GREEN_Y),
           cap=[(1400, CAP_N1), (1430, CAP_N2)])

ALL = [P_A, P_B, P_C, P_D, P_E, P_F, P_G, P_H, P_I, P_J, P_K, P_L, P_M, P_N]

# Every panel sits in its own (gap, panel) strip; nested strips take no height in the
# flush-bounded column, so vertical gaps alone set each panel's top edge.
items = []
y_cur = 0.0
for p in sorted(ALL, key=lambda q: q["top"] - q["adj"]):
    top = p["top"] - 8 - p["adj"]
    if top - y_cur > 0.05:
        items.append(spacer(1, top - y_cur))
        y_cur = top
    items.append(alt.hconcat(spacer(p["left"] - 8, 1), make_panel(p), spacing=0, bounds="flush"))

chart = alt.vconcat(*items, spacing=0, bounds="flush").properties(
    padding=0, background="white"
).configure_view(stroke="#3a3a3a", strokeWidth=1)

chart.save("out.html", embed_options={"renderer": "svg", "actions": False})
